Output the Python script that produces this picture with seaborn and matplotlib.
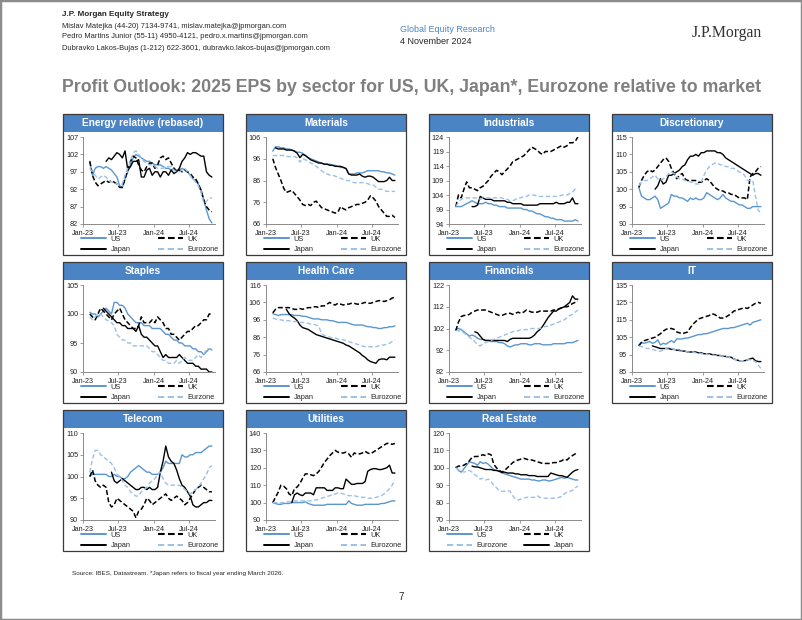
import numpy as np
import pandas as pd
import matplotlib
matplotlib.use("Agg")
import matplotlib.pyplot as plt
import matplotlib.dates as mdates
from matplotlib.patches import Rectangle
from matplotlib.lines import Line2D
import seaborn as sns

sns.set_theme(style="white")
plt.rcParams["font.family"] = ["Liberation Sans", "DejaVu Sans"]

# ---------------- data (fortnightly observations, rebased) ----------------
dates = pd.date_range("2023-02-05", periods=46, freq="14D")

energy_us = [100, 96, 98, 98.5, 98.5, 98, 98.5, 98, 97.5, 96.5,
             95.5, 93, 92.5, 95, 97, 99, 101, 102, 101.5, 101,
             100.5, 100, 100, 99.5, 99, 99, 99, 98.5, 98, 98,
             97.5, 98, 97.5, 97.5, 98, 97.5, 97, 96, 95, 94.5,
             93.5, 92, 89, 86, 83.5, 82.3]
energy_uk = [100, 96, 94, 93, 93.5, 94, 94.5, 94, 94.5, 94,
             93.5, 92.5, 92.5, 95, 97.5, 100, 101.5, 101, 99, 97.5,
             97, 98.5, 99.5, 99.5, 98, 99, 101, 101.5, 100.5, 101,
             99.5, 98, 97, 97.5, 97, 97.5, 97, 96.5, 95.5, 95,
             93.5, 91.5, 89, 87, 86, 85.5]
energy_japan = [None] * 6 + [100, 101, 100.5, 101.5, 102.5, 102, 101, 103, 97.5, 98.5,
                             100, 100, 100.5, 95.5, 95.5, 97.5, 98, 96, 97, 97,
                             95.5, 97, 97, 96, 97.5, 96.5, 97, 98, 100, 101,
                             102.5, 102, 102.5, 102.5, 102, 101.5, 101.5, 97, 96, 95.5]
energy_eurozone = [98, 97, 96, 95, 95.5, 96, 95.5, 94.5, 94, 94,
                   93.5, 93, 93.5, 96, 98, 100, 102.5, 103, 102, 101,
                   100, 99.5, 99, 99, 98.5, 98, 98, 98, 98.5, 98.5,
                   98.5, 97.5, 97, 97, 97.5, 98, 97, 96, 95, 94,
                   93, 91, 88, 88.5, 89.5, 89.5]

materials_us = [99.5, 101.5, 101.5, 101, 101, 100.5, 100.5, 100, 99.5, 99,
                99, 98.5, 97.5, 96.5, 96, 95.5, 95, 94.5, 94, 93.5,
                93.5, 93.5, 93, 93, 92.5, 92, 92, 91.5, 89, 89,
                89, 89.5, 89.5, 89.5, 90, 90.5, 90.5, 90.5, 90.5, 90.5,
                90, 90, 89.5, 89.5, 89, 88.5]
materials_uk = [96, 92, 89, 86, 82.5, 80.5, 81, 81.5, 80, 78.5,
                77, 75, 74.5, 75, 74.5, 76, 76.5, 75, 73.5, 73,
                72.5, 72, 71.5, 71, 71.5, 74, 73, 72.5, 73.5, 74,
                74.5, 75, 75, 75.5, 76, 77, 79, 78, 76.5, 74,
                72.5, 71, 69.5, 69.5, 70, 69]
materials_japan = [None] + [101, 100.5, 100.5, 100.5, 100, 100, 100, 99.5, 98.5, 96.5,
                            98, 97.5, 96.5, 95.5, 95, 94.5, 94, 94, 93.5, 93.5,
                            93, 93, 92.5, 92.5, 92.5, 92, 91.5, 89, 88.5, 88.5,
                            88.5, 89, 88, 87.5, 88, 88, 87.5, 86.5, 85.5, 85.5,
                            85.5, 86, 87.5, 86, 86]
materials_eurozone = [97.5, 97.5, 97.5, 97.5, 97.5, 97, 97, 97, 97, 96.5,
                      94.5, 96, 95.5, 95, 94, 93.5, 92.5, 91.5, 90.5, 89.5,
                      89, 88.5, 88.5, 88, 87.5, 87, 86.5, 86, 86, 85.5,
                      85, 85, 85, 85, 85, 84.5, 84, 84, 83, 82,
                      82, 81.5, 81, 81, 81, 81]

industrials_us = [100, 100, 100, 100.5, 101, 101.5, 102, 101.5, 101, 101,
                  101, 101.5, 101, 101, 100.5, 100.5, 100, 100, 100, 99.5,
                  99.5, 99.5, 99.5, 99.5, 99.5, 99, 99, 98.5, 98.5, 98,
                  97.5, 97.5, 97, 96.5, 96.5, 96, 96, 95.5, 95.5, 95.5,
                  95, 95, 95, 95, 95.5, 95]
industrials_uk = [100, 104, 103, 106, 108.5, 106.5, 106.5, 106, 105.5, 106.5,
                  107, 108, 109, 110.5, 111.5, 112.5, 112, 111, 112, 113,
                  114, 115.5, 116, 116.5, 117, 117.5, 118.5, 119.5, 120.5, 120,
                  119.5, 118.5, 118, 119, 119, 119, 119.5, 120, 120.5, 121,
                  120.5, 121, 122, 122, 122.5, 124]
industrials_japan = [None] * 6 + [100, 100, 100.5, 103.5, 103, 102.5, 102.5, 102.5, 102, 102,
                                  102, 102, 102, 101.5, 101.5, 101, 101, 101, 101, 100.5,
                                  100.5, 100.5, 100.5, 100.5, 100.5, 101, 101, 101, 101, 101,
                                  101, 101.5, 101, 101, 101, 101.5, 101.5, 103, 101, 101]
industrials_eurozone = [100, 101.5, 102.5, 103, 103, 103, 103, 103, 103, 102.5,
                        103, 103, 103, 103, 103, 103, 103, 103, 102.5, 102.5,
                        102, 102, 102.5, 103, 103, 103.5, 103.5, 104, 104, 104,
                        103.5, 103.5, 103.5, 103.5, 103.5, 103.5, 103.5, 103.5, 103.5, 104,
                        104, 104, 104.5, 105, 106, 106.5]

discretionary_us = [100.5, 98, 97.5, 97, 97, 97.5, 98, 97, 94.5, 95,
                    95.5, 96, 98.5, 98, 98, 97.5, 97.5, 97, 96.5, 97.5,
                    97, 97.5, 97, 97, 97.5, 99, 98.5, 98, 97.5, 97,
                    97.5, 98.5, 97.5, 97, 96.5, 96.5, 96, 95.5, 95.5, 95,
                    94.5, 94.5, 95, 95, 95, 95]
discretionary_uk = [100.5, 102.5, 104, 105, 105.5, 105, 105.5, 106.5, 107.5, 108.5,
                    109, 108, 106, 104.5, 103, 104, 104.5, 103, 102.5, 102.5,
                    102.5, 102.5, 102, 102, 102.5, 103, 102.5, 101.5, 100.5, 100,
                    99.5, 99.5, 99, 99, 98.5, 98.5, 98, 97.5, 97.5, 97.5,
                    97, 103.5, 104.5, 105, 106, 106.5]
discretionary_japan = [None] * 6 + [100, 101, 103, 101.5, 102, 104, 104, 104.5, 105, 105.5,
                                    106.5, 107, 108.5, 109.5, 109.5, 110, 109.5, 110.5, 110.5, 111,
                                    111, 111, 111, 110.5, 110.5, 110, 109, 108.5, 108, 107.5,
                                    107, 106.5, 106, 105.5, 105, 104.5, 104, 104.5, 104.5, 104]
discretionary_eurozone = [101, 102, 102.5, 102.5, 103, 103.5, 104, 103, 102.5, 103,
                          103.5, 104.5, 105, 104.5, 103.5, 103, 103, 102.5, 102.5, 102,
                          102, 101.5, 101.5, 102, 104, 105.5, 106.5, 107, 107.5, 107.5,
                          107, 107, 106.5, 106.5, 106, 106, 105.5, 105, 104.5, 104,
                          102.5, 102.5, 102.5, 98, 94, 93]

staples_us = [100.3, 100, 100, 99.5, 100, 100.5, 101, 100.5, 100, 102,
              102, 101.5, 101.5, 101, 100, 99.5, 99, 98.5, 98.5, 98.5,
              98, 98, 98, 97.5, 97.5, 97.5, 97.5, 97, 96.5, 96.5,
              96, 95.5, 95.5, 95, 95, 94.5, 94.5, 94.5, 94, 94,
              93.5, 93.5, 93, 93.5, 94, 93.8]
staples_uk = [100, 99.5, 99, 100, 101, 100.5, 100, 99.5, 99, 100,
              100.5, 101, 100, 99, 98.5, 98, 97.5, 97.5, 98, 99.5,
              98.5, 98.5, 98.5, 99, 98.5, 99.5, 99, 98.5, 97.5, 97.5,
              96.5, 96.5, 96, 95.5, 96, 96.5, 97, 97, 97.5, 98,
              98, 98.5, 99, 99, 100, 100]
staples_japan = [None] * 5 + [101, 100.5, 100, 99.5, 99, 98.5, 98.5, 98, 98, 97.5,
                              97.5, 97.5, 97, 98, 96.5, 96, 96, 95.5, 95, 94.5,
                              94.5, 93.5, 92.5, 93, 92.5, 92.5, 92.5, 92.5, 93, 92.5,
                              92, 91.5, 91.5, 91.5, 91, 91, 90.5, 90.5, 90.5, 90,
                              90]
staples_eurozone = [99.5, 99, 99.5, 100, 100, 99.5, 99, 98.8, 98.5, 98,
                    96.5, 96, 95.5, 95.5, 95, 95, 94.5, 94.5, 94.5, 94.5,
                    94.5, 94.5, 94, 93.5, 93.5, 93, 92.5, 92, 92, 91.5,
                    91.5, 91.5, 92, 91.5, 92, 92.5, 92, 92, 92, 92.5,
                    93, 92.5, 93, 94, 94, 94]

healthcare_us = [99.5, 99, 98.5, 99, 99, 99, 99, 99, 98.5, 98.5,
                 98.5, 98, 98, 97.5, 97, 96.5, 96.5, 96.5, 96, 96,
                 96, 95.5, 95.5, 95, 94.5, 94.5, 94.5, 94.5, 94, 93.5,
                 93, 93, 93, 93, 92.5, 92, 92, 91.5, 91.5, 91,
                 91, 91.5, 91.5, 92, 92, 92.5]
healthcare_uk = [100, 102, 103, 103, 103, 103, 103, 102.5, 102, 102,
                 102.5, 102, 102.5, 103, 103, 103.5, 103.5, 103, 104, 104,
                 105, 106, 105, 104.5, 105.5, 105, 104.5, 105, 105, 105.5,
                 105.5, 105, 105, 105.5, 106, 105.5, 105.5, 106, 106.5, 107,
                 107, 106.5, 107, 107.5, 108.5, 109]
healthcare_japan = [None] * 5 + [102, 99.5, 98, 97, 95.5, 93, 91.5, 91, 90.5, 89.5,
                                 88.5, 87.5, 87, 86.5, 86, 85.5, 85, 84.5, 84, 83.5,
                                 83, 82.5, 81.5, 81, 80, 79, 78, 77, 75.5, 74.5,
                                 73, 72, 71.5, 71, 73, 73.5, 73.5, 73, 74.5, 74.5,
                                 74.5]
healthcare_eurozone = [97, 96.5, 96, 96, 95.5, 95.5, 95.5, 95, 95, 95,
                       94.5, 94.5, 94.5, 94, 93.5, 93.5, 93, 92, 88, 87,
                       86.5, 86, 85.5, 85.5, 85, 84.5, 84.5, 84, 83.5, 83,
                       82.5, 82, 81.5, 81, 80.5, 80.5, 80.5, 80.5, 80.5, 81,
                       81.5, 81.5, 82, 82.5, 83.5, 84.5]

financials_us = [101.5, 102, 101.5, 100.5, 99.5, 98.5, 99, 98.5, 97.5, 97,
                 97, 96.5, 96.5, 96, 96, 96, 95.5, 95.5, 95, 94,
                 93.5, 94, 94.5, 94.5, 95, 95, 95, 94.5, 94.5, 95,
                 95, 95, 94.5, 94.5, 94.5, 94.5, 95, 95, 95, 95,
                 95, 95.5, 95.5, 95.5, 96, 96.5]
financials_uk = [101, 105, 107.5, 108, 108, 108.5, 109.5, 110, 110.5, 110.5,
                 110.5, 110.5, 110, 109.5, 109, 108.5, 108, 108, 108.5, 109,
                 109, 108.5, 109, 109.5, 109, 109.5, 110.5, 110, 109.5, 109.5,
                 109.5, 110, 110, 110, 110, 110, 110.5, 110.5, 111, 111.5,
                 112, 112, 112.5, 113.5, 114, 114.5]
financials_japan = [None] * 7 + [100.5, 100, 98.5, 97, 96.5, 96.5, 96.5, 96.5, 96.5, 96.5,
                                 96.5, 96.5, 96, 97, 97.5, 97.5, 97.5, 97.5, 97.5, 97.5,
                                 97.5, 98, 99, 100.5, 101.5, 103, 105, 107, 108.5, 110,
                                 110, 111, 111.5, 112, 113, 114, 117, 115.5, 115.5]
financials_eurozone = [101, 101, 100.5, 100, 99, 98, 97, 96, 94.5, 94,
                       95, 95.5, 96, 96.5, 97, 97.5, 98, 98.5, 99, 99.5,
                       100, 100.5, 101, 101, 101.5, 101.5, 101.5, 101.5, 102, 102,
                       102, 102, 102.5, 103, 103, 103.5, 104, 104.5, 105, 105.5,
                       106, 107, 108, 108.5, 109.5, 110.5]

it_us = [100.5, 102, 101.5, 102, 102.5, 101.5, 102, 103.5, 100.5, 101.5,
         101, 102, 103, 102, 104, 104, 104, 104.5, 104.5, 105,
         105.5, 106, 106.5, 106.5, 107, 107, 107.5, 108, 108.5, 109,
         109.5, 110, 110, 110, 110.5, 110.5, 111, 111.5, 112, 112.5,
         113, 112, 113.5, 114, 114.5, 115]
it_uk = [100, 102, 103, 103.5, 104, 104.5, 105, 106, 107, 108.5,
         109.5, 110, 110, 109.5, 108, 107.5, 107, 107.5, 108, 110.5,
         112.5, 114, 115.5, 116, 116.5, 117, 117.5, 118.5, 118, 117,
         116, 116, 116.5, 117.5, 118.5, 120, 120.5, 121, 121.5, 122,
         121.5, 122.5, 123.5, 124.5, 125, 124.5]
it_japan = [None] * 5 + [100, 99.5, 99, 98.5, 98.5, 98.5, 98.5, 98, 98, 97.5,
                         97.5, 97, 97, 96.5, 96.5, 96.5, 96.5, 96, 96, 95.5,
                         95.5, 95.5, 95, 95, 94.5, 94.5, 94, 94, 93.5, 93.5,
                         92.5, 92, 91.5, 91.5, 91.5, 92, 92.5, 93, 91.5, 91,
                         91]
it_eurozone = [100, 99.5, 99, 98.5, 98.5, 98, 97.5, 97, 97, 97.5,
               98.5, 99, 98.5, 98, 97.5, 97, 97, 97, 96.5, 96.5,
               96.5, 96, 96, 95.5, 95.5, 95.5, 95, 95, 94.5, 94.5,
               94.5, 94, 94, 93.5, 93, 92.5, 92, 91.5, 91.5, 91.5,
               92, 92, 91.5, 91, 89, 87]

telecom_us = [100, 100.5, 100.5, 100.5, 100.5, 100.5, 100.5, 100, 100, 100.5,
              100, 100, 99.5, 99.5, 100, 101, 101.5, 102, 102.5, 102,
              101.5, 101, 101, 100.5, 100.5, 100.5, 101, 102, 103.5, 103,
              103, 103, 103, 103, 105, 104.5, 104.5, 105, 105, 105.5,
              105.5, 105.5, 106, 106.5, 107, 107]
telecom_uk = [100, 101.5, 99, 98, 97.5, 98, 97.5, 94, 93, 93.5,
              95, 94.5, 94, 93.5, 93, 92.5, 92, 90.5, 92, 92.5,
              93.5, 95, 94.5, 93.5, 94, 94.5, 95, 95.5, 96, 95,
              94.5, 95, 95.5, 95, 94.5, 93.5, 94, 95, 96, 97,
              97.5, 98, 97.5, 97, 96.5, 96.5]
telecom_japan = [None] * 8 + [101, 99, 98.5, 99, 99.5, 99, 98.5, 98, 97.5, 97,
                              97, 97.5, 97.5, 97, 97.5, 97, 97, 97.5, 101, 103.5,
                              107, 104.5, 103.5, 103, 101.5, 99.5, 98, 97.5, 96.5, 95.5,
                              93.5, 93, 93, 93.5, 94, 94, 94.5, 94.5]
telecom_eurozone = [101, 104, 106, 106, 105, 104.5, 104, 103.5, 103, 102,
                    100.5, 100, 99, 98, 97.5, 96.5, 96, 95.5, 95.5, 96.5,
                    97, 97.5, 98.5, 99, 99.5, 100.5, 101, 99.5, 98.5, 98,
                    98, 98, 98, 98, 97.5, 97, 96.5, 96, 96.5, 97,
                    97.5, 98.5, 99.5, 100.5, 102, 102.5]

utilities_us = [100, 99.5, 99, 99, 99.5, 99.5, 99.5, 100, 100, 100,
                100, 100, 100.5, 99.5, 99, 98.5, 98.5, 98.5, 98.5, 98.5,
                99, 99, 99, 99, 99, 99, 99, 99, 101, 99.5,
                99, 98.5, 98.5, 98.5, 99, 99, 99, 99, 99, 99,
                99.5, 99.5, 100, 100.5, 101, 101]
utilities_uk = [100, 103, 106, 110, 109.5, 108, 105, 104, 108, 109,
                111, 114, 116.5, 116.5, 116, 115.5, 116.5, 118, 120.5, 123,
                125, 127, 128.5, 130, 129, 128.5, 128.5, 129, 128, 126,
                128.5, 128, 128, 128.5, 129.5, 128.5, 128, 129, 130, 131,
                132, 133, 134, 134, 133.5, 134]
utilities_japan = [None] * 7 + [100, 104.5, 105.5, 104.5, 104, 105.5, 105.5, 105.5, 104.5, 108.5,
                                108.5, 108.5, 108.5, 107, 107, 107, 108.5, 108.5, 108, 108,
                                113.5, 112, 110.5, 110.5, 111, 111, 111, 112, 118, 119,
                                119.5, 119.5, 119, 119, 119.5, 120, 121.5, 117, 117]
utilities_eurozone = [100, 100, 100, 100, 100, 100.5, 100.5, 100.5, 101, 101,
                      101, 101, 101, 101, 101, 101.5, 101.5, 102, 102.5, 103,
                      103.5, 104, 104.5, 105, 105.5, 105.5, 105, 104.5, 104, 104,
                      104, 103.5, 103.5, 103, 103, 102.5, 102.5, 102.5, 103, 103.5,
                      104, 105, 106.5, 108, 110, 113]

realestate_us = [100.5, 98.5, 97.5, 99.5, 101.5, 103.5, 103, 102.5, 101.5, 103.5,
                 102.5, 103, 102, 100.5, 99, 98.5, 98, 97, 96.5, 96,
                 95.5, 95, 94.5, 94, 93.5, 93.5, 93.5, 93.5, 93, 93,
                 92.5, 92.5, 93, 93, 92.5, 92.5, 93, 93.5, 94, 94.5,
                 94, 94.5, 94, 93.5, 93, 93]
realestate_uk = [100, 101, 101, 101.5, 102.5, 104, 106, 106.5, 106.5, 107,
                 107.5, 107, 108, 107.5, 102, 100, 98.5, 97.5, 98.5, 100,
                 101.5, 103, 104, 104.5, 105, 105.5, 105, 104.5, 104.5, 104,
                 103.5, 103, 102.5, 102.5, 102.5, 102.5, 103, 103, 103.5, 104,
                 105, 104.5, 106, 107, 108, 109]
realestate_japan = [None] * 6 + [101, 100.5, 100.5, 100, 99.5, 99, 99, 99, 98.5, 98.5,
                                 98, 97.5, 97.5, 97, 97, 97, 96.5, 96.5, 96, 96,
                                 96, 95.5, 95.5, 95.5, 95, 95, 95, 95, 95, 97,
                                 96.5, 96, 95.5, 95.5, 95, 94.5, 96, 97.5, 98.5, 99]
realestate_eurozone = [100, 99, 98.5, 97.5, 98, 98.5, 97.5, 96, 95, 93.5,
                       94, 93, 93.5, 92, 90, 88.5, 87, 86.5, 86.5, 87,
                       86.5, 84, 82, 81.5, 82, 82.5, 83, 83, 83, 83,
                       84, 83, 82.5, 82.5, 82.5, 82.5, 82.5, 82.5, 83, 83.5,
                       85, 86, 86.5, 87, 88.5, 89.5]

sector_titles = ["Energy relative (rebased)", "Materials", "Industrials", "Discretionary",
                 "Staples", "Health Care", "Financials", "IT",
                 "Telecom", "Utilities", "Real Estate"]
sector_yticks = [[82, 87, 92, 97, 102, 107], [66, 76, 86, 96, 106], [94, 99, 104, 109, 114, 119, 124],
                 [90, 95, 100, 105, 110, 115], [90, 95, 100, 105], [66, 76, 86, 96, 106, 116],
                 [82, 92, 102, 112, 122], [85, 95, 105, 115, 125, 135], [90, 95, 100, 105, 110],
                 [90, 100, 110, 120, 130, 140], [70, 80, 90, 100, 110, 120]]
sector_series = [
    (energy_us, energy_uk, energy_japan, energy_eurozone),
    (materials_us, materials_uk, materials_japan, materials_eurozone),
    (industrials_us, industrials_uk, industrials_japan, industrials_eurozone),
    (discretionary_us, discretionary_uk, discretionary_japan, discretionary_eurozone),
    (staples_us, staples_uk, staples_japan, staples_eurozone),
    (healthcare_us, healthcare_uk, healthcare_japan, healthcare_eurozone),
    (financials_us, financials_uk, financials_japan, financials_eurozone),
    (it_us, it_uk, it_japan, it_eurozone),
    (telecom_us, telecom_uk, telecom_japan, telecom_eurozone),
    (utilities_us, utilities_uk, utilities_japan, utilities_eurozone),
    (realestate_us, realestate_uk, realestate_japan, realestate_eurozone),
]
series_names = ["US", "UK", "Japan", "Eurozone"]
# legend entries per panel (column 1 then column 2)
legend_keys = [["US", "Japan", "UK", "Eurozone"]] * 11
legend_keys[10] = ["US", "Eurozone", "UK", "Japan"]
legend_labels = [list(k) for k in legend_keys]
legend_labels[4] = ["US", "Japan", "UK", "Eurzone"]

# ---------------- styling ----------------
US_BLUE = "#5b97cf"
EZ_BLUE = "#9cc0e6"
BAR_BLUE = "#4a84c4"
styles = {
    "US": dict(color=US_BLUE, linestyle="-", linewidth=1.0),
    "UK": dict(color="black", linestyle=(0, (3.2, 1.6)), linewidth=1.1),
    "Japan": dict(color="black", linestyle="-", linewidth=1.0),
    "Eurozone": dict(color=EZ_BLUE, linestyle=(0, (3.2, 1.8)), linewidth=1.0),
}

W, H = 802, 620
fig = plt.figure(figsize=(W / 100, H / 100), dpi=100)
fig.patch.set_facecolor("white")


def fx(px):
    return px / W


def fy(py):
    return 1 - py / H


def frect(x, y, w, h):
    return [x / W, 1 - (y + h) / H, w / W, h / H]


# page border
fig.add_artist(Rectangle((0, 0), 1, 1, transform=fig.transFigure, fill=False,
                         ec="#8c8c8c", lw=2.5))

# header
fig.text(fx(62), fy(15), "J.P. Morgan Equity Strategy", fontsize=5.9, fontweight="bold", va="center")
fig.text(fx(62), fy(26), "Mislav Matejka (44-20) 7134-9741, mislav.matejka@jpmorgan.com", fontsize=5.45, va="center")
fig.text(fx(62), fy(37), "Pedro Martins Junior (55-11) 4950-4121, pedro.x.martins@jpmorgan.com", fontsize=5.45, va="center")
fig.text(fx(62), fy(48), "Dubravko Lakos-Bujas (1-212) 622-3601, dubravko.lakos-bujas@jpmorgan.com", fontsize=5.45, va="center")
fig.text(fx(400), fy(29), "Global Equity Research", fontsize=6.5, color="#4a86c8", va="center")
fig.text(fx(400), fy(41), "4 November 2024", fontsize=6.5, va="center")
fig.text(fx(762), fy(33), "J.P.Morgan", fontsize=11.3, va="center", ha="right",
         family=["Liberation Serif", "DejaVu Serif"], color="#333333")

fig.text(fx(62), fy(88), "Profit Outlook: 2025 EPS by sector for US, UK, Japan*, Eurozone relative to market",
         fontsize=12.8, fontweight="bold", color="#7f7f7f", va="center")

fig.text(fx(72), fy(574), "Source: IBES, Datastream. *Japan refers to fiscal year ending March 2026.",
         fontsize=4.6, va="center")
fig.text(fx(401), fy(597), "7", fontsize=7, va="center", ha="center")

col_x = [63, 246, 429, 612]
row_y = [114, 262, 410]
BOX_W, BOX_H = 160, 141
BAR_H = 18

xticks = pd.to_datetime(["2023-01-01", "2023-07-01", "2024-01-01", "2024-07-01"])

for k, title in enumerate(sector_titles):
    r, c = divmod(k, 4)
    bx, by = col_x[c], row_y[r]
    fig.add_artist(Rectangle((fx(bx), fy(by + BAR_H)), BOX_W / W, BAR_H / H,
                             transform=fig.transFigure, fc=BAR_BLUE, ec="none"))
    fig.add_artist(Rectangle((fx(bx), fy(by + BOX_H)), BOX_W / W, BOX_H / H,
                             transform=fig.transFigure, fill=False, ec="#3a3a3a", lw=0.9))
    fig.text(fx(bx + BOX_W / 2), fy(by + BAR_H / 2), title, ha="center", va="center",
             color="white", fontsize=7.3, fontweight="bold")

    ax = fig.add_axes(frect(bx + 20, by + 23, 132, 87))
    ax.set_facecolor("white")
    handles = {}
    for name, vals in zip(series_names, sector_series[k]):
        assert len(vals) == len(dates), (title, name, len(vals))
        y = np.array([np.nan if v is None else v for v in vals], dtype=float)
        sns.lineplot(x=dates, y=y, ax=ax, **styles[name])
        handles[name] = Line2D([], [], **{**styles[name], "linewidth": styles[name]["linewidth"] + 0.4})

    yt = sector_yticks[k]
    ax.set_ylim(yt[0], yt[-1])
    ax.set_yticks(yt)
    ax.set_xlim(pd.Timestamp("2023-01-01"), pd.Timestamp("2024-11-12"))
    ax.set_xticks(xticks)
    ax.xaxis.set_major_formatter(mdates.DateFormatter("%b-%y"))
    ax.set_xlabel("")
    ax.set_ylabel("")
    for s in ["top", "right"]:
        ax.spines[s].set_visible(False)
    for s in ["left", "bottom"]:
        ax.spines[s].set_color("#8a8a8a")
        ax.spines[s].set_linewidth(0.7)
    ax.tick_params(axis="both", which="major", length=2, width=0.6, pad=1.5,
                   labelsize=5.2, colors="#222222", color="#8a8a8a", left=True, bottom=True)
    ax.tick_params(axis="x", pad=2.5)

    keys = legend_keys[k]
    labs = legend_labels[k]
    for j, lx in enumerate([bx + 18, bx + 95]):
        fig.legend([handles[keys[2 * j]], handles[keys[2 * j + 1]]], labs[2 * j:2 * j + 2],
                   loc="upper left", bbox_to_anchor=(fx(lx), fy(by + 121.5)),
                   bbox_transform=fig.transFigure, frameon=False, fontsize=5.3,
                   handlelength=3.4, handletextpad=0.6, labelspacing=0.45,
                   borderpad=0, borderaxespad=0)

fig.savefig("out.png", dpi=100, facecolor="white")
